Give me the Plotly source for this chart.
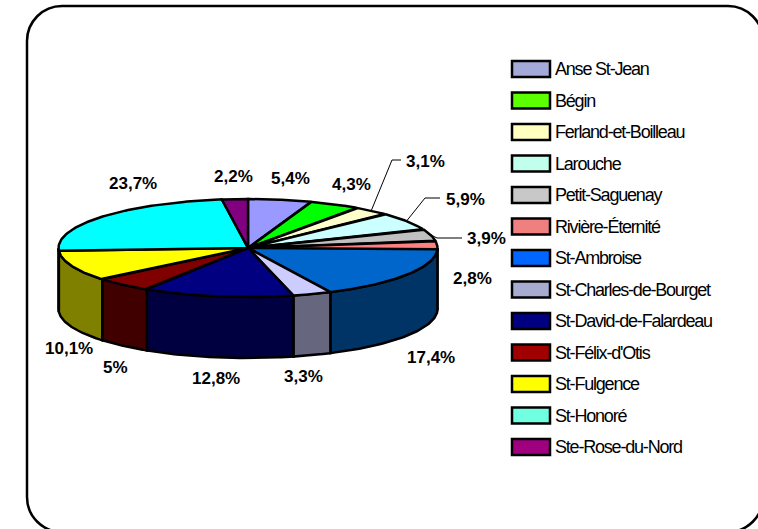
import numpy as np
import plotly.graph_objects as go

# Répartition par municipalité (%)
communes = [
    "Anse St-Jean", "Bégin", "Ferland-et-Boilleau", "Larouche", "Petit-Saguenay",
    "Rivière-Éternité", "St-Ambroise", "St-Charles-de-Bourget", "St-David-de-Falardeau",
    "St-Félix-d'Otis", "St-Fulgence", "St-Honoré", "Ste-Rose-du-Nord",
]
parts = [5.4, 4.3, 3.1, 5.9, 3.9, 2.8, 17.4, 3.3, 12.8, 5.0, 10.1, 23.7, 2.2]

# Styles
slice_colors = ["#9999FF", "#00FF00", "#FFFFCC", "#CCFFFF", "#C0C0C0", "#FF8080", "#0066CC",
                "#CCCCFF", "#000080", "#800000", "#FFFF00", "#00FFFF", "#800080"]
legend_colors = ["#A3AAD9", "#5CFF00", "#FFFFC0", "#C0FFEB", "#C8C8C8", "#F08080", "#0066FF",
                 "#A8ABD0", "#000080", "#A00000", "#FFFF00", "#70FFE0", "#A00080"]

W, H = 758, 529
FONT = "Liberation Sans, Arial, sans-serif"

# Géométrie du camembert 3D (pixels)
CX, CY, RX, RY, DEPTH = 248, 248, 189.5, 49, 61

# Position des étiquettes de pourcentage (centre du texte)
label_pos = [(290, 178), (351, 184), (425, 161), (465, 199), (486, 238), (472, 278),
             (431, 357), (303, 376), (216, 378), (115, 367), (69, 348), (133, 183), (233, 176)]
# Lignes de rappel : coude et extrémité, par indice de tranche
leaders = {2: [(392, 160), (401, 160)], 3: [(425, 198), (440, 198)], 4: [(437, 238), (462, 238)]}


def edge(theta_deg, dy=0.0):
    t = np.radians(theta_deg)
    return CX + RX * np.sin(t), CY - RY * np.cos(t) + dy


def darker(hex_color, f=0.5):
    h = hex_color.lstrip("#")
    r, g, b = (int(h[i:i + 2], 16) for i in (0, 2, 4))
    return "#{:02X}{:02X}{:02X}".format(int(r * f), int(g * f), int(b * f))


total = sum(parts)
bounds = np.concatenate([[0], np.cumsum(parts)]) / total * 360.0

fig = go.Figure()

# Faces latérales (moitié avant visible)
for i, name in enumerate(communes):
    lo, hi = max(bounds[i], 90.0), min(bounds[i + 1], 270.0)
    if hi <= lo:
        continue
    th = np.linspace(lo, hi, 60)
    xt, yt = edge(th)
    xb, yb = edge(th[::-1], DEPTH)
    fig.add_trace(go.Scatter(
        x=np.concatenate([xt, xb, xt[:1]]), y=np.concatenate([yt, yb, yt[:1]]),
        mode="lines", fill="toself", fillcolor=darker(slice_colors[i]),
        line=dict(color="black", width=2.5), legendgroup=name, showlegend=False,
        hoverinfo="text", text=f"{name}: {parts[i]:g} %",
    ))

# Faces supérieures
for i, name in enumerate(communes):
    th = np.linspace(bounds[i], bounds[i + 1], 80)
    xa, ya = edge(th)
    fig.add_trace(go.Scatter(
        x=np.concatenate([[CX], xa, [CX]]), y=np.concatenate([[CY], ya, [CY]]),
        mode="lines", fill="toself", fillcolor=slice_colors[i],
        line=dict(color="black", width=2.5), legendgroup=name, showlegend=False,
        hoverinfo="text", text=f"{name}: {parts[i]:g} %",
    ))

annotations = []
shapes = []

# Étiquettes de pourcentage
for i, v in enumerate(parts):
    txt = f"{v:g}".replace(".", ",") + "%"
    lx, ly = label_pos[i]
    annotations.append(dict(x=lx, y=ly, xref="x", yref="y", text=txt, showarrow=False,
                            xanchor="center", yanchor="middle",
                            font=dict(family=FONT, size=17, color="black", weight="bold")))

# Lignes de rappel
for i, pts in leaders.items():
    mid = (bounds[i] + bounds[i + 1]) / 2
    sx, sy = edge(mid)
    path = f"M{sx:.1f},{sy:.1f}" + "".join(f" L{px},{py}" for px, py in pts)
    shapes.append(dict(type="path", path=path, xref="x", yref="y",
                       line=dict(color="black", width=1)))

# Légende
LX0, LX1, LY0, LSTEP, LH = 512, 550, 69, 31.5, 16
for i, name in enumerate(communes):
    yc = LY0 + i * LSTEP
    shapes.append(dict(type="rect", xref="x", yref="y", x0=LX0, x1=LX1,
                       y0=yc - LH / 2, y1=yc + LH / 2, fillcolor=legend_colors[i],
                       line=dict(color="black", width=2.5)))
    annotations.append(dict(x=LX1 + 3, y=yc, xref="x", yref="y",
                            text=f'<span style="letter-spacing:-1.2px">{name}</span>',
                            showarrow=False, xanchor="left", yanchor="middle",
                            font=dict(family=FONT, size=18, color="black")))

# Cadre arrondi
L, T, R, B, r = 27, 6, 763, 532, 35
k = 0.5523 * r
frame = (f"M{L},{T + r} C{L},{T + r - k} {L + r - k},{T} {L + r},{T} "
         f"L{R - r},{T} C{R - r + k},{T} {R},{T + r - k} {R},{T + r} "
         f"L{R},{B - r} C{R},{B - r + k} {R - r + k},{B} {R - r},{B} "
         f"L{L + r},{B} C{L + r - k},{B} {L},{B - r + k} {L},{B - r} Z")
shapes.insert(0, dict(type="path", path=frame, xref="x", yref="y",
                      line=dict(color="black", width=2.5), layer="below"))

fig.update_layout(
    width=W, height=H, margin=dict(l=0, r=0, t=0, b=0),
    paper_bgcolor="white", plot_bgcolor="white", showlegend=False,
    xaxis=dict(range=[0, W], visible=False, fixedrange=True),
    yaxis=dict(range=[H, 0], visible=False, fixedrange=True),
    annotations=annotations, shapes=shapes,
)

fig.write_html("out.html")
